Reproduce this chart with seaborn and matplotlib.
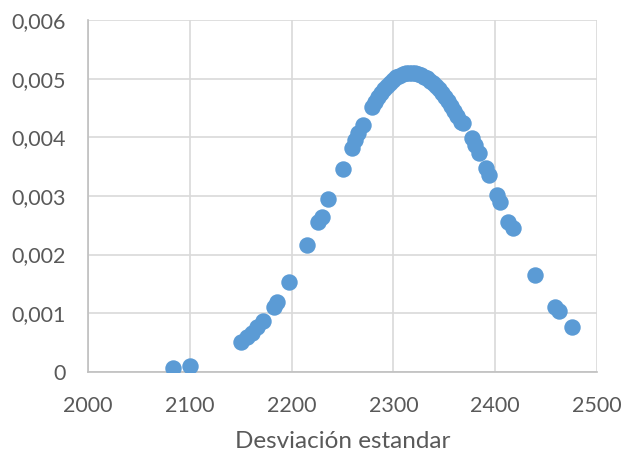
import numpy as np
import pandas as pd
import seaborn as sns
import matplotlib
matplotlib.use("Agg")
import matplotlib.pyplot as plt
from matplotlib.ticker import FuncFormatter, FixedLocator

# Desviación estándar (x) and its density value (y)
desviacion = [
    2083.8, 2100.2, 2150.0, 2155.9, 2160.8, 2165.7, 2172.2, 2182.7, 2185.7,
    2197.0, 2215.4, 2226.2, 2229.6, 2236.0, 2250.2, 2259.0, 2262.3, 2265.5,
    2270.4,
    2279, 2282, 2285, 2288, 2291, 2294, 2297, 2300, 2303, 2306, 2309, 2312,
    2315, 2318, 2321, 2324, 2327, 2330, 2333, 2336, 2339, 2342, 2345, 2348,
    2351, 2354, 2357, 2360, 2363, 2366,
    2368.7, 2376.9, 2380.2, 2384.4, 2391.0, 2394.2, 2401.5, 2404.7, 2412.9,
    2417.2, 2439.0, 2458.7, 2462.6, 2475.1,
]
densidad = [
    0.000063, 0.000107, 0.000506, 0.000602, 0.000670, 0.000770, 0.000870,
    0.001110, 0.001190, 0.001530, 0.002165, 0.002560, 0.002640, 0.002940,
    0.003455, 0.003810, 0.003950, 0.004070, 0.004210,
    0.004520, 0.004600, 0.004680, 0.004760, 0.004820, 0.004880, 0.004930,
    0.004980, 0.005020, 0.005050, 0.005070, 0.005090, 0.005100, 0.005100,
    0.005090, 0.005080, 0.005060, 0.005035, 0.005005, 0.004965, 0.004920,
    0.004870, 0.004815, 0.004750, 0.004685, 0.004610, 0.004530, 0.004445,
    0.004355, 0.004265,
    0.004240, 0.003980, 0.003870, 0.003730, 0.003470, 0.003360, 0.003020,
    0.002900, 0.002560, 0.002450, 0.001650, 0.001110, 0.001030, 0.000760,
]

x_ticks = [2000, 2100, 2200, 2300, 2400, 2500]
y_ticks = [0, 0.001, 0.002, 0.003, 0.004, 0.005, 0.006]
x_label = "Desviación estandar"

df = pd.DataFrame({"x": desviacion, "y": densidad})

sns.set_theme(style="white")
plt.rcParams["font.family"] = ["Lato", "DejaVu Sans"]

fig = plt.figure(figsize=(6.33, 4.53), dpi=100)
ax = fig.add_axes([0.139, 0.179, 0.804, 0.777])

sns.scatterplot(data=df, x="x", y="y", ax=ax, color="#5B9BD5",
                s=140, linewidth=0, alpha=1, zorder=3)

ax.set_xlim(2000, 2500)
ax.set_ylim(0, 0.006)
ax.xaxis.set_major_locator(FixedLocator(x_ticks))
ax.yaxis.set_major_locator(FixedLocator(y_ticks))
ax.yaxis.set_major_formatter(FuncFormatter(
    lambda v, _: "0" if v == 0 else f"{v:.3f}".replace(".", ",")))
ax.xaxis.set_major_formatter(FuncFormatter(lambda v, _: f"{int(v)}"))

ax.grid(True, color="#D9D9D9", linewidth=1.2, zorder=0)
ax.set_axisbelow(True)
for side in ["top", "right"]:
    ax.spines[side].set_visible(False)
for side in ["left", "bottom"]:
    ax.spines[side].set_color("#BFBFBF")
    ax.spines[side].set_linewidth(1.2)

ax.tick_params(axis="both", length=0, labelsize=15.5, colors="#595959")
ax.tick_params(axis="x", pad=17)
ax.tick_params(axis="y", pad=16)
ax.set_xlabel(x_label, fontsize=17.5, color="#595959", labelpad=11)
ax.set_ylabel("")

fig.savefig("out.png", dpi=100)
